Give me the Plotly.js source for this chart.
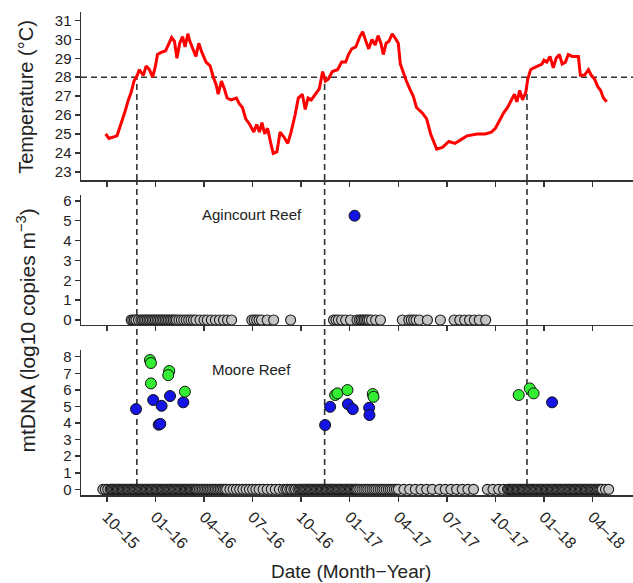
<!DOCTYPE html>
<html>
<head>
<meta charset="utf-8">
<script src="https://cdn.plot.ly/plotly-3.0.1.min.js"></script>
<style>html,body{margin:0;padding:0;background:#fff;}#chart{width:633px;height:583px;}</style>
</head>
<body>
<div id="chart"></div>
<script>
// x values are months since 1 Oct 2015
const tickMonths = [0, 3, 6, 9, 12, 15, 18, 21, 24, 27, 30];
const tickLabels = ['10–15','01–16','04–16','07–16','10–16','01–17','04–17','07–17','10–17','01–18','04–18'];

const tempMonths = [-0.075,0.125,0.625,0.875,1.125,1.325,1.5,1.675,1.875,2.0,2.25,2.425,2.625,2.825,3.0,3.125,3.325,3.625,3.825,4.0,4.175,4.325,4.5,4.675,4.825,5.0,5.125,5.325,5.5,5.675,5.875,6.125,6.375,6.575,6.75,6.875,7.075,7.25,7.425,7.675,8.0,8.175,8.375,8.575,8.825,9.075,9.25,9.425,9.575,9.75,9.925,10.125,10.275,10.5,10.7,10.925,11.175,11.375,11.625,11.825,12.075,12.25,12.425,12.625,12.875,13.125,13.325,13.5,13.675,13.925,14.25,14.5,14.75,14.925,15.125,15.375,15.625,15.8,16.0,16.175,16.375,16.575,16.75,16.925,17.075,17.25,17.425,17.625,17.825,18.0,18.125,18.325,18.5,18.75,18.925,19.125,19.5,19.75,20.0,20.375,20.75,21.125,21.5,21.875,22.25,22.875,23.375,23.75,24.0,24.25,24.5,24.75,25.0,25.175,25.325,25.5,25.675,25.875,26.0,26.175,26.375,26.625,26.875,27.0,27.175,27.375,27.575,27.75,27.95,28.125,28.325,28.5,28.75,29.125,29.25,29.5,29.75,29.925,30.125,30.325,30.5,30.675,30.875];
const tempValues = [25.0,24.76,24.9,25.5,26.2,26.8,27.2,27.8,28.1,28.4,28.1,28.6,28.4,28.0,28.6,29.2,29.3,29.4,29.8,30.1,29.9,29.0,29.8,30.15,29.6,30.3,29.9,29.5,29.1,29.8,29.3,28.8,28.6,28.0,27.6,27.1,27.8,27.4,26.9,26.8,26.9,26.6,26.4,25.8,25.5,25.1,25.5,25.1,25.6,25.0,25.3,24.5,23.97,24.05,25.1,24.85,24.5,25.1,26.0,26.9,27.1,26.3,26.9,26.8,27.1,27.4,28.3,27.8,27.9,28.3,28.4,28.8,28.8,29.2,29.5,29.6,30.15,30.4,29.9,29.5,30.0,29.7,30.2,29.8,29.2,29.8,29.9,30.3,30.05,29.8,28.7,28.2,27.8,27.3,27.0,26.4,26.1,25.8,25.0,24.2,24.3,24.6,24.5,24.7,24.9,25.0,25.0,25.1,25.3,25.7,26.1,26.4,26.8,27.1,26.7,27.3,26.8,27.2,27.9,28.4,28.5,28.6,28.7,28.9,28.8,29.1,28.5,29.0,29.2,28.7,28.8,29.2,29.1,29.1,28.1,28.1,28.4,28.1,27.9,27.5,27.3,26.9,26.7];

const threshold = 28;
const crossingMonths = [1.85, 13.45, 25.95];

// Agincourt Reef
const agGreyMonths = [1.5,1.6,1.7,1.8,1.95,2.1,2.2,2.3,2.4,2.5,2.6,2.7,2.8,2.9,3.0,3.1,3.2,3.3,3.4,3.5,3.6,3.7,3.8,3.9,4.0,4.1,4.2,4.3,4.45,4.6,4.75,4.9,5.05,5.2,5.35,5.5,5.75,6.0,6.2,6.45,6.7,6.95,7.2,7.45,7.7,8.95,9.1,9.25,9.4,9.55,9.9,10.3,11.35,14.0,14.15,14.3,14.5,14.75,15.05,15.45,15.6,15.7,15.8,15.9,16.0,16.1,16.2,16.35,16.6,16.9,18.25,18.65,18.8,18.95,19.1,19.3,19.8,20.6,21.45,21.8,22.1,22.4,22.7,23.0,23.4];
const agBlueMonths = [15.3];
const agBlueValues = [5.25];

// Moore Reef
const moGreyMonths = [-0.25,-0.1,0.05,0.2,0.27,0.35,0.42,0.5,0.58,0.65,0.72,0.8,0.88,0.95,1.02,1.1,1.18,1.25,1.32,1.4,1.48,1.55,1.62,1.7,1.78,1.85,1.92,2.0,2.08,2.15,2.22,2.3,2.38,2.45,2.52,2.6,2.68,2.75,2.82,2.9,2.98,3.05,3.12,3.2,3.28,3.35,3.42,3.5,3.58,3.65,3.72,3.8,3.88,3.95,4.02,4.1,4.18,4.25,4.32,4.4,4.48,4.55,4.62,4.7,4.78,4.85,4.92,5.0,5.08,5.15,5.22,5.3,5.38,5.45,5.52,5.6,5.7,5.8,5.9,6.0,6.1,6.2,6.3,6.4,6.5,6.6,6.7,6.8,6.9,7.0,7.1,7.2,7.3,7.4,7.6,7.8,8.0,8.2,8.4,8.6,8.8,9.0,9.2,9.4,9.65,9.9,10.15,10.4,10.65,10.9,11.05,11.15,11.3,11.4,11.55,11.65,11.8,11.9,11.98,12.05,12.12,12.2,12.28,12.35,12.42,12.5,12.58,12.65,12.72,12.8,12.88,12.95,13.02,13.1,13.18,13.25,13.32,13.4,13.48,13.55,13.62,13.7,13.78,13.85,13.92,14.0,14.08,14.15,14.22,14.3,14.38,14.45,14.52,14.6,14.68,14.75,14.82,14.9,14.98,15.05,15.12,15.2,15.28,15.35,15.42,15.5,15.62,15.75,15.88,16.0,16.12,16.25,16.38,16.5,16.62,16.75,16.88,17.0,17.12,17.25,17.38,17.5,17.62,17.75,17.88,18.0,18.35,18.7,19.05,19.4,19.75,20.1,20.55,20.9,21.25,21.6,21.95,22.3,22.65,23.5,23.85,24.2,24.5,24.75,24.82,24.9,24.98,25.05,25.12,25.2,25.28,25.35,25.42,25.5,25.58,25.65,25.72,25.8,25.88,25.95,26.02,26.1,26.18,26.25,26.32,26.4,26.48,26.55,26.62,26.7,26.78,26.85,26.92,27.0,27.08,27.15,27.22,27.3,27.38,27.45,27.52,27.6,27.68,27.75,27.82,27.9,27.98,28.05,28.12,28.2,28.28,28.35,28.42,28.5,28.58,28.65,28.72,28.8,28.88,28.95,29.02,29.1,29.18,29.25,29.32,29.4,29.48,29.55,29.62,29.7,29.78,29.85,29.92,30.0,30.08,30.15,30.22,30.3,30.38,30.45,30.52,30.6,30.8,31.0];
const moBlueMonths = [1.8,2.86,3.38,3.2,3.3,3.9,4.72,13.48,13.79,14.89,15.19,16.2,16.22,27.5];
const moBlueValues = [4.84,5.39,5.04,3.9,3.95,5.63,5.25,3.88,4.98,5.14,4.84,4.92,4.48,5.25];
const moGreenMonths = [2.66,2.72,3.85,3.79,2.72,4.82,14.1,14.24,14.86,16.42,16.47,25.44,26.12,26.36];
const moGreenValues = [7.8,7.62,7.14,6.89,6.39,5.89,5.69,5.79,5.99,5.75,5.58,5.69,6.09,5.79];

const FONT = 'Liberation Sans, Arial, sans-serif';
const AXC = '#333';
const greyMarker = {size: 10, color: '#c4c4c4', line: {color: '#1a1a1a', width: 1.1}};
const blueMarker = {size: 11, color: '#1414e6', line: {color: '#111', width: 1}};
const greenMarker = {size: 11, color: '#33ee33', line: {color: '#111', width: 1}};

const traces = [
  {x: tempMonths, y: tempValues, xaxis: 'x', yaxis: 'y', type: 'scatter', mode: 'lines',
   line: {color: '#ff0000', width: 3}, hoverinfo: 'skip'},
  {x: agGreyMonths, y: agGreyMonths.map(() => 0), xaxis: 'x2', yaxis: 'y2', type: 'scatter', mode: 'markers', marker: greyMarker},
  {x: agBlueMonths, y: agBlueValues, xaxis: 'x2', yaxis: 'y2', type: 'scatter', mode: 'markers', marker: blueMarker},
  {x: moGreyMonths, y: moGreyMonths.map(() => 0), xaxis: 'x3', yaxis: 'y3', type: 'scatter', mode: 'markers', marker: greyMarker},
  {x: moBlueMonths, y: moBlueValues, xaxis: 'x3', yaxis: 'y3', type: 'scatter', mode: 'markers', marker: blueMarker},
  {x: moGreenMonths, y: moGreenValues, xaxis: 'x3', yaxis: 'y3', type: 'scatter', mode: 'markers', marker: greenMarker}
];

const xRange = [-1.6, 32.5];
const dTop = [0.652, 1.0], dMid = [0.352, 0.621], dBot = [0, 0.300];
const yTopRange = [22.56, 31.45];

function xAxis(anchor, labels) {
  return {
    anchor: anchor, range: xRange, showgrid: false, zeroline: false,
    showline: true, linecolor: AXC, linewidth: 1.5,
    ticks: 'outside', ticklen: 5, tickwidth: 1.5, tickcolor: AXC,
    tickmode: 'array', tickvals: tickMonths, ticktext: tickLabels,
    showticklabels: labels, tickangle: 45,
    tickfont: {family: FONT, size: 16, color: '#222'}, automargin: false
  };
}
function yAxis(domain, range, anchor) {
  return {
    domain: domain, range: range, anchor: anchor, showgrid: false, zeroline: false,
    showline: true, linecolor: AXC, linewidth: 1.5,
    ticks: 'outside', ticklen: 5, tickwidth: 1.5, tickcolor: AXC, dtick: 1,
    tickfont: {family: FONT, size: 15, color: '#222'}, automargin: false
  };
}

const shapes = [
  {type: 'line', xref: 'paper', yref: 'y', x0: 0, x1: 1, y0: threshold, y1: threshold,
   line: {color: '#333', width: 1.6, dash: '6px,4px'}, layer: 'below'}
];
crossingMonths.forEach(m => {
  shapes.push({type: 'line', xref: 'x', yref: 'y', x0: m, x1: m, y0: yTopRange[0], y1: threshold,
    line: {color: '#333', width: 1.6, dash: '6px,4px'}, layer: 'below'});
  shapes.push({type: 'line', xref: 'x', yref: 'paper', x0: m, x1: m, y0: 0, y1: dTop[0],
    line: {color: '#333', width: 1.6, dash: '6px,4px'}, layer: 'below'});
});

const layout = {
  width: 633, height: 583,
  margin: {l: 81, r: 0, t: 12, b: 88},
  paper_bgcolor: '#fff', plot_bgcolor: '#fff',
  showlegend: false,
  font: {family: FONT, color: '#222'},
  xaxis: xAxis('y', false),
  xaxis2: Object.assign(xAxis('y2', false), {matches: 'x'}),
  xaxis3: Object.assign(xAxis('y3', true), {matches: 'x'}),
  yaxis: yAxis(dTop, yTopRange, 'x'),
  yaxis2: yAxis(dMid, [-0.25, 6.29], 'x2'),
  yaxis3: yAxis(dBot, [-0.34, 8.4], 'x3'),
  shapes: shapes,
  annotations: [
    {text: 'Agincourt Reef', xref: 'x2', yref: 'y2', x: 8.95, y: 5.3, showarrow: false,
     font: {family: FONT, size: 15, color: '#222'}},
    {text: 'Moore Reef', xref: 'x3', yref: 'y3', x: 8.95, y: 7.2, showarrow: false,
     font: {family: FONT, size: 15, color: '#222'}},
    {text: 'Temperature (°C)', xref: 'paper', yref: 'paper', x: -0.1, y: 0.824,
     textangle: -90, showarrow: false, xanchor: 'center', yanchor: 'middle',
     font: {family: FONT, size: 20, color: '#222'}},
    {text: 'mtDNA (log10 copies m<sup>−3</sup>)', xref: 'paper', yref: 'paper', x: -0.1, y: 0.34,
     textangle: -90, showarrow: false, xanchor: 'center', yanchor: 'middle',
     font: {family: FONT, size: 21, color: '#222'}},
    {text: 'Date (Month−Year)', xref: 'paper', yref: 'paper', x: 0.49, y: -0.159,
     showarrow: false, xanchor: 'center', yanchor: 'middle',
     font: {family: FONT, size: 19, color: '#222'}}
  ]
};

Plotly.newPlot('chart', traces, layout, {displayModeBar: false, staticPlot: true});
</script>
</body>
</html>
